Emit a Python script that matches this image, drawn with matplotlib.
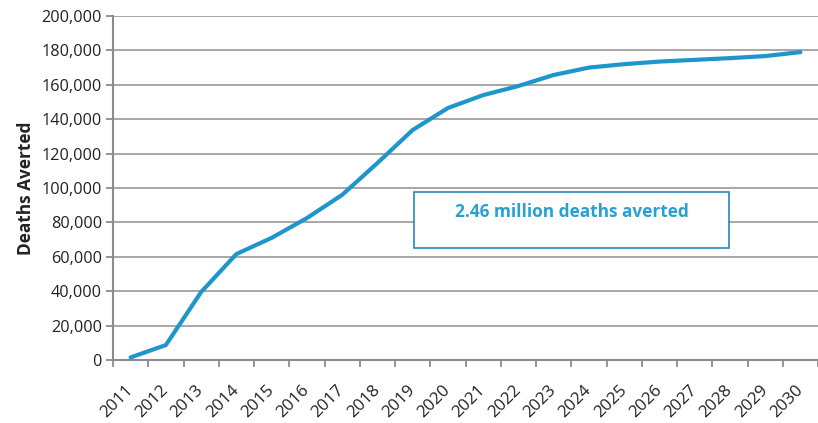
import matplotlib
matplotlib.use("Agg")
import matplotlib.pyplot as plt
from matplotlib.ticker import FuncFormatter, MultipleLocator
from matplotlib.patches import Rectangle

years = [str(y) for y in range(2011, 2031)]
deaths_averted = [1500, 8700, 39500, 61600, 71000, 82500, 96000, 114500, 133700, 146500,
                  154000, 159300, 165700, 170000, 172000, 173500, 174500, 175500, 176700, 179000]
annotation = "2.46 million deaths averted"

plt.rcParams['font.family'] = ['Open Sans', 'DejaVu Sans']

fig = plt.figure(figsize=(8.18, 4.23), dpi=100)
ax = fig.add_axes([113/818, 1-360/423, 1-113/818, (360-16)/423])

x = list(range(len(years)))
ax.plot(x, deaths_averted, color='#1e96cc', lw=3.0, solid_capstyle='round', zorder=3)

ax.set_ylim(0, 200000)
ax.set_xlim(-0.5, 19.5 - 8/35.6)
ax.yaxis.set_major_locator(MultipleLocator(20000))
ax.yaxis.set_major_formatter(FuncFormatter(lambda v, p: f"{int(v):,}"))
ax.grid(axis='y', color='#a0a0a0', lw=1.3)
ax.set_axisbelow(True)

ax.set_xticks([i - 0.5 for i in range(len(years) + 1)], minor=False)
ax.set_xticklabels([])
ax.set_xticks(x, minor=True)
ax.set_xticklabels(years, minor=True, rotation=45, ha='right', va='center',
                   rotation_mode='anchor', fontsize=12.2, color='#222222')
ax.tick_params(axis='x', which='minor', length=0, pad=20)
ax.tick_params(axis='x', which='major', length=5, color='#8c8c8c', width=1.3)
ax.tick_params(axis='y', length=5, color='#8c8c8c', width=1.3, labelsize=11.7,
               labelcolor='#222222', pad=3)

for s in ['top', 'right']:
    ax.spines[s].set_visible(False)
for s in ['left', 'bottom']:
    ax.spines[s].set_color('#8c8c8c')
    ax.spines[s].set_linewidth(1.5)

ax.set_ylabel("Deaths Averted", fontsize=12.4, fontweight='bold', color='#222222', labelpad=5)

# annotation box
bx0, bx1 = (417-113)/35.6 - 0.5, (735-113)/35.6 - 0.5
rect = Rectangle((bx0, 65000), bx1 - bx0, 32500, transform=ax.transData,
                 facecolor='white', edgecolor='#2a86b8', lw=1.2, zorder=4)
ax.add_patch(rect)
ax.text((bx0 + bx1) / 2, 85800, annotation, ha='center', va='center',
        fontsize=12.4, fontweight='bold', color='#29a0d2', zorder=5)

fig.savefig("out.png", dpi=100)
